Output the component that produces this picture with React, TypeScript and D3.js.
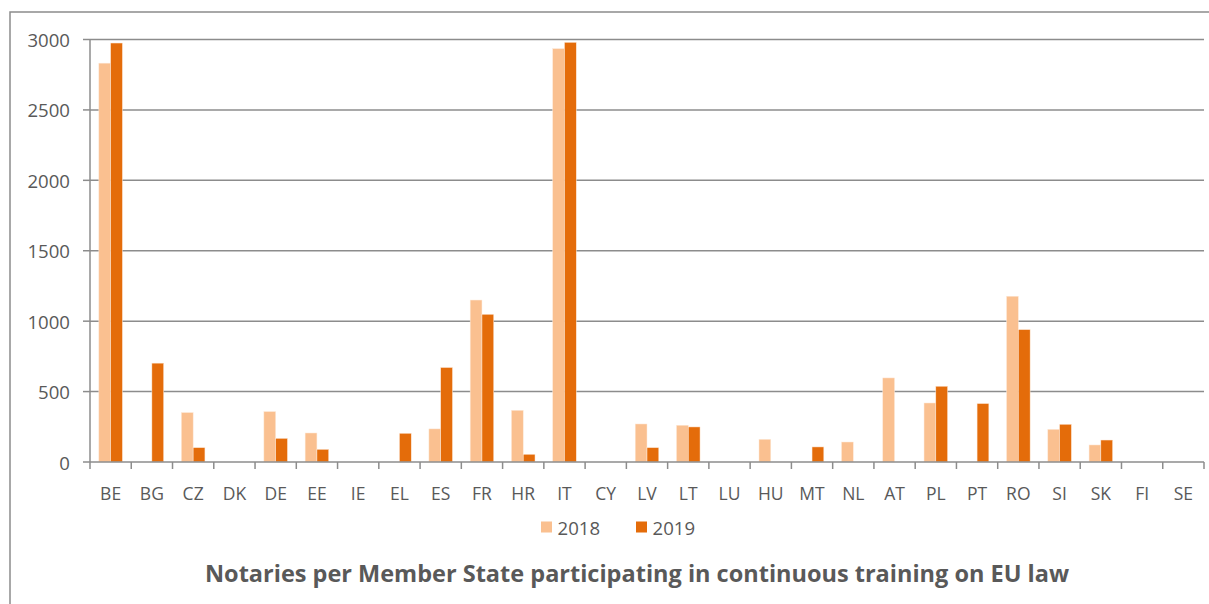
import React from "react";
import * as d3 from "d3";

const categories = ["BE","BG","CZ","DK","DE","EE","IE","EL","ES","FR","HR","IT","CY","LV","LT","LU","HU","MT","NL","AT","PL","PT","RO","SI","SK","FI","SE"];
const values2018 = [2832,0,351,0,358,206,0,0,235,1150,367,2935,0,270,261,0,161,0,142,597,419,0,1177,232,121,0,0];
const values2019 = [2975,702,102,0,168,90,0,204,671,1049,55,2980,0,102,249,0,0,107,0,0,538,415,940,268,156,0,0];
const series = ["2018", "2019"];
const yTicks = [0, 500, 1000, 1500, 2000, 2500, 3000];
const title = "Notaries per Member State participating in continuous training on EU law";

const colors = ["#FAC090", "#E46C0A"];
const W = 1209, H = 604;
const left = 90, right = 1204, top = 39.5, bottom = 462;
const font = "'Open Sans', 'Liberation Sans', sans-serif";

export default function App() {
  const x = d3.scaleBand<string>().domain(categories).range([left, right]).paddingInner(0).paddingOuter(0);
  const y = d3.scaleLinear().domain([0, 3000]).range([bottom, top]);
  const inner = d3.scaleBand<string>().domain(series).range([0, x.bandwidth()]).paddingInner(0).paddingOuter(0.75);
  const data = [values2018, values2019];
  const axisColor = "#8C8C8C";
  const legendX = [541, 636];
  return (
    <svg width={W} height={H} style={{ position: "absolute", left: 0, top: 0, background: "#fff" }} fontFamily={font}>
      <rect x={10} y={12} width={W + 10} height={H + 10} fill="none" stroke={axisColor} strokeWidth={1.5} />
      {yTicks.map((t) => (
        <g key={t}>
          {t > 0 && <line x1={left} x2={right} y1={y(t)} y2={y(t)} stroke={axisColor} strokeWidth={1.5} />}
          <line x1={left - 7} x2={left} y1={y(t)} y2={y(t)} stroke={axisColor} strokeWidth={1.5} />
          <text x={70} y={y(t)} textAnchor="end" dominantBaseline="central" fontSize={18.6} fill="#595959">{t}</text>
        </g>
      ))}
      {data.map((vals, si) =>
        vals.map((v, i) =>
          v > 0 ? (
            <rect key={`${si}-${i}`} x={(x(categories[i]) as number) + (inner(series[si]) as number)} y={y(v)}
              width={inner.bandwidth()} height={bottom - y(v)} fill={colors[si]} stroke="#FDE9D9" strokeWidth={0.5} />
          ) : null
        )
      )}
      <line x1={left} x2={left} y1={top} y2={bottom} stroke={axisColor} strokeWidth={1.5} />
      <line x1={left} x2={right} y1={bottom} y2={bottom} stroke={axisColor} strokeWidth={1.5} />
      {categories.map((c, i) => (
        <line key={"t" + c} x1={left + i * x.step()} x2={left + i * x.step()} y1={bottom} y2={bottom + 7} stroke={axisColor} strokeWidth={1.5} />
      ))}
      <line x1={right} x2={right} y1={bottom} y2={bottom + 7} stroke={axisColor} strokeWidth={1.5} />
      {categories.map((c) => (
        <text key={"l" + c} x={(x(c) as number) + x.bandwidth() / 2} y={493} textAnchor="middle" dominantBaseline="central" fontSize={17.5} fill="#595959">{c}</text>
      ))}
      {series.map((s, i) => (
        <g key={s} transform={`translate(${legendX[i]},0)`}>
          <rect x={0} y={521.5} width={11} height={11} fill={colors[i]} />
          <text x={16.5} y={527} dominantBaseline="central" fontSize={18.6} fill="#595959">{s}</text>
        </g>
      ))}
      <text x={637} y={573} textAnchor="middle" dominantBaseline="central" fontSize={23.5} fontWeight="bold" fill="#595959">{title}</text>
    </svg>
  );
}
